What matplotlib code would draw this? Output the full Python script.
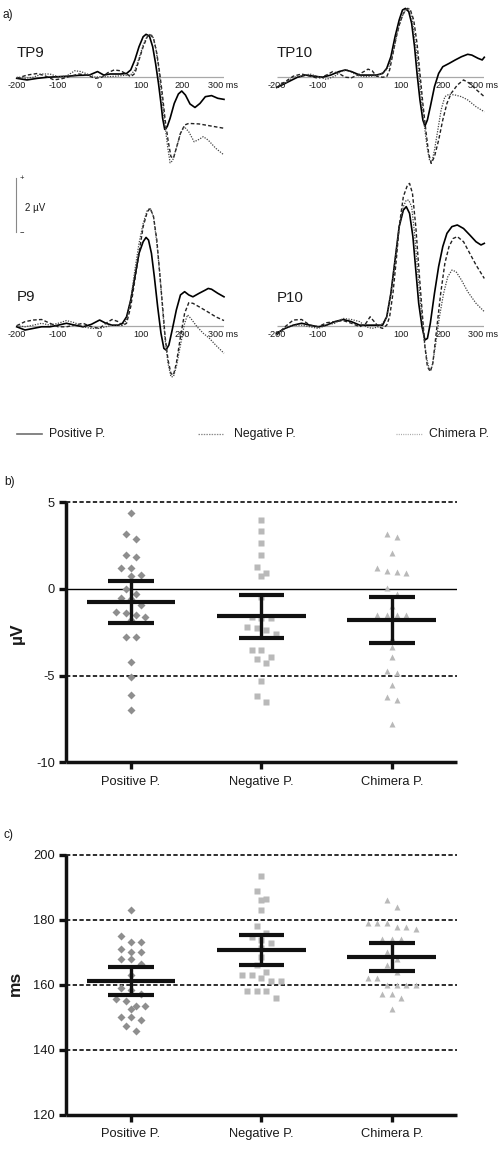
import numpy as np
import matplotlib
matplotlib.use("Agg")
import matplotlib.pyplot as plt

plt.rcParams['font.family'] = ['Liberation Sans', 'DejaVu Sans']

W, H = 502, 1151

# ---------------- Panel a: ERP waveforms (time in ms, amplitude in uV) ----------------
TP9_pos_t = [-200,-175,-150,-125,-100,-75,-50,-25,-5,10,25,50,65,75,85,95,105,112,120,128,135,142,148,152,157,163,170,180,190,198,207,218,230,242,255,270,285,300]
TP9_pos_v = [-0.06,-0.12,-0.06,-0.02,0,0.02,0.05,0.06,0.19,0.06,0.10,0.10,0.12,0.25,0.62,1.11,1.48,1.57,1.51,1.11,0.49,-0.25,-0.99,-1.54,-1.95,-1.85,-1.54,-0.99,-0.64,-0.53,-0.68,-1.01,-1.14,-0.99,-0.74,-0.70,-0.80,-0.84]
TP9_neg_t = [-200,-175,-150,-130,-110,-90,-70,-50,-30,-10,5,20,35,50,65,75,85,95,105,115,122,130,138,145,152,158,165,172,178,185,195,205,215,240,270,300]
TP9_neg_v = [-0.06,0.06,0.12,0.02,-0.12,-0.07,0.02,0.10,0.05,-0.06,-0.02,0.15,0.25,0.22,0.10,0,0.12,0.62,1.11,1.48,1.57,1.42,0.86,0.12,-0.74,-1.60,-2.35,-2.96,-3.02,-2.65,-2.10,-1.79,-1.73,-1.75,-1.83,-1.91]
TP9_chi_t = [-200,-180,-160,-140,-120,-100,-80,-60,-45,-30,-10,0,20,40,60,75,85,95,105,115,122,128,135,142,150,157,164,170,176,185,195,204,215,228,240,250,262,280,300]
TP9_chi_v = [-0.02,-0.06,-0.02,0.10,0.10,0,0.02,0.22,0.19,0.10,-0.02,0,0,0.02,0.05,0.07,0.25,0.68,1.17,1.51,1.57,1.51,1.11,0.37,-0.74,-1.73,-2.59,-3.19,-3.11,-2.65,-2.10,-1.85,-2.04,-2.41,-2.32,-2.22,-2.35,-2.65,-2.90]

TP10_pos_t = [-200,-180,-150,-130,-110,-90,-70,-50,-35,-20,0,20,40,55,65,75,85,95,103,110,118,125,132,138,145,152,157,163,170,180,190,200,215,230,245,260,270,285,295,300]
TP10_pos_v = [-0.40,-0.25,-0.02,0.06,0.02,-0.02,0.06,0.19,0.25,0.19,0.06,0.06,0.06,0.12,0.31,0.74,1.48,2.10,2.47,2.53,2.41,1.98,1.11,0.12,-0.86,-1.60,-1.83,-1.60,-1.11,-0.37,0.12,0.37,0.49,0.62,0.74,0.83,0.80,0.68,0.62,0.72]
TP10_neg_t = [-200,-180,-160,-140,-120,-100,-80,-65,-50,-35,-20,-5,10,20,30,40,55,65,72,80,88,95,105,115,122,130,138,145,152,160,166,172,180,190,200,210,220,235,250,265,280,300]
TP10_neg_v = [-0.40,-0.19,0.02,0.10,0.02,-0.06,0.06,0.19,0.12,-0.02,-0.04,0.06,0.19,0.28,0.22,0.02,-0.02,0,0.25,0.86,1.48,1.91,2.35,2.53,2.47,2.10,1.23,0.12,-0.99,-2.10,-2.84,-3.21,-2.96,-2.35,-1.60,-0.99,-0.62,-0.31,-0.12,-0.25,-0.47,-0.74]
TP10_chi_t = [-200,-180,-160,-140,-120,-100,-80,-60,-45,-30,-15,0,15,30,45,60,70,80,90,100,110,118,125,132,140,148,155,162,168,174,180,188,196,205,215,230,245,260,280,300]
TP10_chi_v = [-0.40,-0.25,-0.02,0.02,0.10,0,-0.10,0.02,0.19,0.25,0.12,0.02,0,0.02,0.06,0.19,0.37,0.86,1.60,2.16,2.47,2.53,2.28,1.48,0.49,-0.74,-1.73,-2.59,-3.09,-3.15,-2.72,-1.98,-1.23,-0.74,-0.65,-0.68,-0.74,-0.86,-1.11,-1.30]

P9_pos_t = [-200,-180,-160,-140,-120,-100,-80,-60,-40,-20,0,15,30,45,55,65,75,85,95,105,112,118,125,132,140,148,155,160,167,175,185,195,205,215,225,240,255,262,270,285,300]
P9_pos_v = [-0.04,-0.16,-0.10,-0.04,-0.04,0.02,0.09,0.02,-0.04,0.05,0.21,0.09,0.02,0.02,0.09,0.33,0.95,1.81,2.68,3.11,3.27,3.17,2.68,1.81,0.70,-0.28,-0.84,-0.90,-0.72,-0.16,0.58,1.14,1.26,1.14,1.07,1.20,1.32,1.38,1.35,1.20,1.07]
P9_neg_t = [-200,-180,-160,-140,-120,-100,-80,-60,-40,-20,0,15,30,45,55,65,75,85,95,105,115,122,130,138,145,152,158,165,172,178,185,195,205,215,225,240,260,280,300]
P9_neg_v = [0,0.15,0.21,0.23,0.09,-0.04,-0.04,0.02,0.09,-0.04,-0.10,0.09,0.23,0.15,0,0.09,0.70,1.69,2.68,3.67,4.22,4.35,4.04,3.17,1.94,0.70,-0.41,-1.27,-1.77,-1.83,-1.40,-0.41,0.46,0.85,0.83,0.70,0.52,0.33,0.19]
P9_chi_t = [-200,-180,-160,-140,-120,-100,-80,-60,-40,-20,0,15,30,45,55,65,75,85,95,105,115,122,130,138,145,152,158,165,172,178,185,195,205,212,220,235,250,265,280,300]
P9_chi_v = [0,-0.04,0.02,0.09,0.02,0.09,0.19,0.11,-0.04,-0.10,-0.10,-0.04,0.02,0.02,0.02,0.21,0.95,2.06,3.05,3.79,4.28,4.35,4.04,3.05,1.94,0.58,-0.53,-1.40,-1.89,-1.89,-1.52,-0.72,0.09,0.40,0.27,-0.04,-0.28,-0.47,-0.72,-1.02]

P10_pos_t = [-200,-180,-160,-140,-120,-100,-80,-60,-40,-20,0,20,40,55,65,75,85,95,105,112,120,128,135,142,150,157,163,170,180,190,200,210,222,235,250,265,280,292,300]
P10_pos_v = [-0.28,-0.10,0.02,0.09,0.02,-0.04,0.02,0.15,0.23,0.15,0.02,0.02,0.02,0.02,0.33,1.20,2.43,3.67,4.28,4.41,4.16,3.30,2.06,0.83,-0.04,-0.53,-0.47,0.09,1.20,2.19,2.93,3.42,3.67,3.73,3.60,3.36,3.11,2.99,3.05]
P10_neg_t = [-200,-180,-160,-140,-120,-100,-80,-60,-40,-20,0,15,25,35,45,55,65,72,80,88,95,105,115,120,127,135,142,150,157,163,170,176,185,195,205,215,225,235,250,265,280,300]
P10_neg_v = [-0.35,-0.04,0.21,0.23,0.02,-0.04,0.11,0.15,0.19,0.09,-0.04,0.09,0.33,0.15,-0.04,-0.10,0.02,0.33,1.20,2.43,3.67,4.78,5.21,5.27,4.90,3.67,2.19,0.58,-0.78,-1.52,-1.70,-1.40,-0.16,1.20,2.31,2.93,3.23,3.30,3.11,2.68,2.25,1.75]
P10_chi_t = [-200,-180,-160,-140,-120,-100,-80,-60,-40,-20,0,15,30,45,55,65,75,85,95,105,112,118,125,132,140,148,155,162,168,174,182,192,202,212,222,232,245,260,280,300]
P10_chi_v = [-0.28,-0.10,0.02,0.02,-0.04,-0.10,0.02,0.09,0.27,0.23,0.15,-0.04,-0.10,-0.04,0.09,0.33,1.20,2.43,3.67,4.41,4.65,4.65,4.41,3.42,1.94,0.58,-0.53,-1.27,-1.64,-1.52,-0.78,0.33,1.20,1.81,2.06,2.00,1.69,1.26,0.83,0.52]

erp_ticks = [-200, -100, 0, 100, 200]
conditions = ["Positive P.", "Negative P.", "Chimera P."]

# ---------------- Panel b: amplitude (uV) ----------------
amp_pos = [4.38, 3.15, 2.90, 1.98, 1.83, 1.23, 1.23, 0.79, 0.75, 0.0, -0.3, -0.5, -0.6, -0.9,
           -1.3, -1.4, -1.5, -1.6, -1.8, -2.75, -2.75, -4.23, -5.08, -6.12, -6.96]
amp_neg = [3.98, 3.37, 2.63, 1.94, 1.29, 0.92, 0.75, -0.46, -1.6, -1.7, -1.7, -2.23, -2.19,
           -2.38, -2.61, -3.5, -3.5, -3.9, -4.04, -4.29, -5.31, -6.19, -6.52]
amp_chi = [3.16, 3.02, 2.10, 1.23, 1.04, 0.96, 0.94, 0.08, -0.27, -1.0, -1.5, -1.5, -1.5, -1.5,
           -2.80, -3.35, -3.94, -4.71, -4.87, -5.54, -6.23, -6.39, -7.77]
amp_mean = [-0.75, -1.58, -1.79]
amp_sem = [1.22, 1.23, 1.31]

# ---------------- Panel c: latency (ms) ----------------
lat_pos = [183.0, 175.1, 173.0, 173.0, 171.0, 170.0, 170.0, 168.0, 168.0, 166.4, 163.0, 159.0,
           158.5, 157.0, 155.5, 155.0, 153.6, 153.6, 152.5, 150.0, 150.0, 149.0, 147.2, 145.9]
lat_neg = [193.4, 188.9, 186.5, 186.1, 183.0, 178.0, 175.8, 174.8, 173.7, 172.7, 171.2, 168.6,
           166.0, 164.0, 163.0, 163.0, 162.0, 161.1, 161.1, 158.0, 158.0, 158.0, 156.0]
lat_chi = [186.1, 184.0, 178.9, 178.9, 178.9, 177.8, 177.8, 177.0, 174.0, 174.0, 174.0, 170.0,
           168.0, 166.0, 163.8, 162.0, 162.0, 160.0, 160.0, 160.0, 160.0, 157.0, 157.0, 155.8, 152.4]
lat_mean = [161.1, 170.7, 168.5]
lat_sem = [4.3, 4.6, 4.2]

# ======================================================================
fig = plt.figure(figsize=(W / 100, H / 100), dpi=100)
fig.patch.set_facecolor('white')

def px_axes(left, top, right, bottom, **kw):
    return fig.add_axes([left / W, 1 - bottom / H, (right - left) / W, (bottom - top) / H], **kw)

PX_PER_UV = 27.0
TEXT = '#1a1a1a'

def erp_panel(left, right, base, top, bottom, name, curves):
    ax = px_axes(left, top, right, bottom)
    ax.set_xlim(-200, 300)
    ax.set_ylim(-(bottom - base) / PX_PER_UV, (base - top) / PX_PER_UV)
    ax.axis('off')
    ax.plot([-200, 300], [0, 0], color='#a8a8a8', lw=0.9, zorder=1, solid_capstyle='butt')
    styles = [dict(color='black', lw=1.2, ls='-'),
              dict(color='#222222', lw=1.0, ls=(0, (2.6, 1.6))),
              dict(color='#444444', lw=0.9, ls=(0, (1.0, 1.1)))]
    for (t, v), st in zip(curves, styles):
        ax.plot(t, v, zorder=3, clip_on=False, **st)
    for tk in erp_ticks:
        ax.annotate(str(tk), xy=(tk, 0), xytext=(0, -6), textcoords='offset points',
                    ha='center', va='center', fontsize=6.6, color=TEXT, zorder=2)
    ax.annotate('300 ms', xy=(300, 0), xytext=(-1, -6), textcoords='offset points',
                ha='center', va='center', fontsize=6.6, color=TEXT, zorder=2)
    return ax

erp_panel(16.7, 224, 76.7, 12, 187, 'TP9',
          [(TP9_pos_t, TP9_pos_v), (TP9_neg_t, TP9_neg_v), (TP9_chi_t, TP9_chi_v)])
erp_panel(276.7, 484.3, 76.7, 12, 187, 'TP10',
          [(TP10_pos_t, TP10_pos_v), (TP10_neg_t, TP10_neg_v), (TP10_chi_t, TP10_chi_v)])
erp_panel(16.7, 224, 325.7, 170, 390, 'P9',
          [(P9_pos_t, P9_pos_v), (P9_neg_t, P9_neg_v), (P9_chi_t, P9_chi_v)])
erp_panel(276.7, 484.3, 325.7, 170, 390, 'P10',
          [(P10_pos_t, P10_pos_v), (P10_neg_t, P10_neg_v), (P10_chi_t, P10_chi_v)])

# ---------------- scatter panels ----------------
def swarm_offsets(vals, px_per_unit, row_px=8.0, step=0.074):
    vals = np.asarray(vals, dtype=float)
    order = np.argsort(-vals, kind='stable')
    rows, cur, start = [], [], None
    for i in order:
        if cur and (start - vals[i]) * px_per_unit < row_px:
            cur.append(i)
        else:
            if cur:
                rows.append(cur)
            cur, start = [i], vals[i]
    if cur:
        rows.append(cur)
    off = np.zeros(len(vals))
    for r in rows:
        n = len(r)
        for k, i in enumerate(r):
            off[i] = (k - (n - 1) / 2) * step
    return off

def scatter_panel(top, bottom, ylim, yticks, grid_dashed, zero_line, groups, means, sems, ylabel, ylabel_xy):
    ax = px_axes(65.7, top, 457, bottom)
    ax.set_xlim(0.5, 3.5)
    ax.set_ylim(*ylim)
    for s in ['top', 'right']:
        ax.spines[s].set_visible(False)
    for s in ['left', 'bottom']:
        ax.spines[s].set_linewidth(2.5)
        ax.spines[s].set_color('#111111')
        ax.spines[s].set_capstyle('butt')
    ax.set_yticks(yticks)
    ax.set_yticklabels([str(v) for v in yticks])
    ax.set_xticks([1, 2, 3])
    ax.set_xticklabels(conditions)
    ax.tick_params(axis='both', length=5.2, width=2.4, color='#111111', labelsize=9.3,
                   labelcolor=TEXT, direction='out')
    ax.tick_params(axis='y', pad=2.5)
    ax.tick_params(axis='x', pad=4.5)
    for g in grid_dashed:
        ax.axhline(g, color='black', lw=1.15, ls=(0, (2.7, 1.5)), zorder=1, clip_on=False)
    if zero_line is not None:
        ax.axhline(zero_line, color='black', lw=1.0, zorder=1)
    px_per_unit = (bottom - top) / (ylim[1] - ylim[0])
    markers = [('D', 3.6, '#8e8e8e'), ('s', 4.4, '#b9b9b9'), ('^', 4.8, '#b9b9b9')]
    for k, (vals, (m, ms, c)) in enumerate(zip(groups, markers)):
        off = swarm_offsets(vals, px_per_unit)
        ax.plot(k + 1 + off, vals, ls='none', marker=m, ms=ms, color=c, mec='none', zorder=2)
    xs = np.arange(1, 4)
    means = np.asarray(means); sems = np.asarray(sems)
    ax.hlines(means, xs - 0.34, xs + 0.34, color='#111111', lw=3.0, zorder=4, capstyle='butt')
    ax.hlines(means + sems, xs - 0.175, xs + 0.175, color='#111111', lw=3.0, zorder=4)
    ax.hlines(means - sems, xs - 0.175, xs + 0.175, color='#111111', lw=3.0, zorder=4)
    ax.vlines(xs, means - sems, means + sems, color='#111111', lw=2.4, zorder=4)
    fig.text(ylabel_xy[0] / W, 1 - ylabel_xy[1] / H, ylabel, rotation=90, ha='center', va='center',
             fontsize=12.5, fontweight='bold', color=TEXT)
    return ax

scatter_panel(502.3, 762.3, (-10, 5), [-10, -5, 0, 5], [5, -5], 0,
              [amp_pos, amp_neg, amp_chi], amp_mean, amp_sem, 'µV', (17, 633))
scatter_panel(854.7, 1114.7, (120, 200), [120, 140, 160, 180, 200], [140, 160, 180, 200], None,
              [lat_pos, lat_neg, lat_chi], lat_mean, lat_sem, 'ms', (15, 983))

# ---------------- overlay: labels, scale bar, legend ----------------
ov = fig.add_axes([0, 0, 1, 1], zorder=10)
ov.set_xlim(0, W)
ov.set_ylim(H, 0)
ov.axis('off')

ov.text(3, 15, 'a)', fontsize=8.6, color=TEXT, va='center', ha='left')
ov.text(4, 482, 'b)', fontsize=8.6, color=TEXT, va='center', ha='left')
ov.text(4, 835, 'c)', fontsize=8.6, color=TEXT, va='center', ha='left')

for name, x, y in [('TP9', 16.5, 53), ('TP10', 276.5, 53), ('P9', 16.5, 297), ('P10', 276.5, 298)]:
    ov.text(x, y, name, fontsize=10.8, color=TEXT, va='center', ha='left')

# scale bar
ov.plot([16, 16], [178, 232], color='#888888', lw=0.8)
ov.text(19.5, 178.5, '+', fontsize=5.5, color=TEXT, va='center', ha='left')
ov.text(19.5, 232.5, '−', fontsize=5.5, color=TEXT, va='center', ha='left')
ov.text(25, 207.5, '2 µV', fontsize=7.0, color=TEXT, va='center', ha='left')

# legend
leg_items = [(16.7, 41.7, 49.3, dict(color='#707070', lw=1.2, ls='-')),
             (198, 223, 234, dict(color='#8a8a8a', lw=0.9, ls=(0, (1.2, 0.9)))),
             (396, 421.7, 429, dict(color='#a8a8a8', lw=0.9, ls=(0, (0.8, 1.0))))]
for (x0, x1, xt, st), lab in zip(leg_items, conditions):
    ov.plot([x0, x1], [434.3, 434.3], **st)
    ov.text(xt, 434.3, lab, fontsize=8.8, color=TEXT, va='center', ha='left')

fig.savefig('out.png', dpi=100, facecolor='white')
